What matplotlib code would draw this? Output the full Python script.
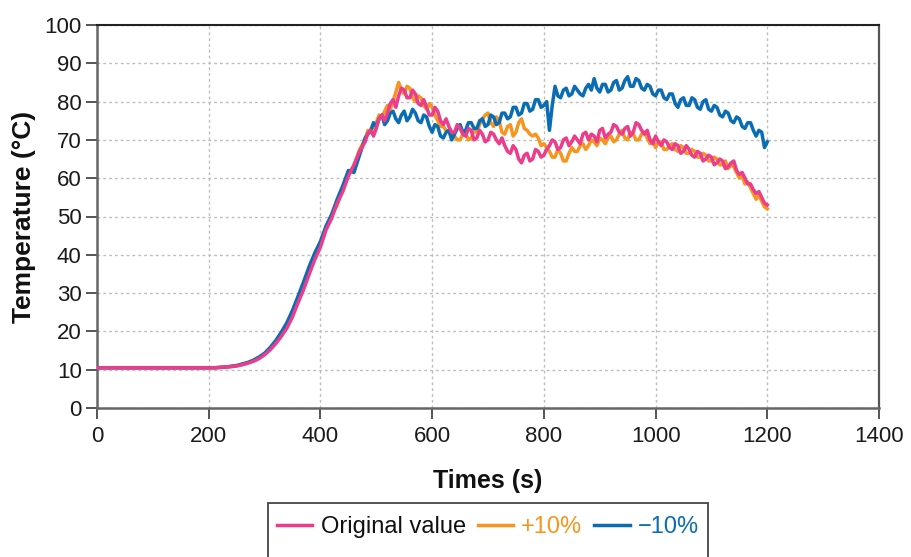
import matplotlib
matplotlib.use("Agg")
import matplotlib.pyplot as plt
from matplotlib import font_manager as fm
from matplotlib.lines import Line2D
from matplotlib.patches import Rectangle

# ---------------- data ----------------
time_rise = list(range(0, 480, 10))      # 0 .. 470 s
time_late = list(range(480, 1201, 5))    # 480 .. 1200 s

original_rise = [10.5, 10.5, 10.5, 10.5, 10.5, 10.5, 10.5, 10.5, 10.5, 10.5,
                 10.5, 10.5, 10.5, 10.5, 10.5, 10.5, 10.5, 10.5, 10.5, 10.5,
                 10.5,
                 10.5, 10.6, 10.7, 10.8, 11.0, 11.3, 11.7, 12.2, 12.9, 13.9,
                 15.2, 16.8, 18.7, 20.9, 23.8, 27.5, 31.0, 35.0, 38.8, 42.0,
                 46.5, 49.5, 53.5, 56.5, 60.5, 63.5, 67.0]
original_late = [69.5, 71.8, 72.5, 71.0, 73.0, 75.5, 76.5, 75.0, 77.0, 79.5,
                 80.5, 78.5, 81.5, 83.5, 83.0, 81.0, 81.0, 83.0, 82.0, 79.5,
                 79.0, 80.5, 78.5, 76.5, 76.5, 78.5, 77.5, 75.0, 74.0, 75.5,
                 73.5, 72.0, 72.0, 74.0, 73.0, 71.5, 71.0, 73.0, 72.5, 70.0,
                 70.5, 72.5, 71.5, 69.5, 70.0, 72.0, 71.5, 70.0, 69.0, 70.5,
                 68.5, 67.0, 66.5, 68.5, 67.5, 65.0, 64.0, 66.0, 66.5, 64.5,
                 65.0, 67.5, 67.0, 65.5, 66.0, 67.5, 68.5, 70.0, 69.5, 67.5,
                 68.0, 70.0, 70.5, 68.5, 69.5, 71.0, 70.0, 69.0, 71.5, 72.0,
                 70.0, 71.5, 71.0, 69.5, 72.5, 73.0, 70.5, 71.5, 72.0, 74.0,
                 73.5, 72.0, 71.5, 73.0, 73.5, 71.0, 72.0, 74.5, 74.0, 72.5,
                 71.5, 72.5, 70.0, 69.0, 71.0, 69.5, 68.5, 70.0, 69.5, 68.0,
                 67.5, 69.0, 68.5, 66.5, 67.0, 68.5, 67.5, 66.0, 65.5, 67.0,
                 66.5, 64.5, 65.0, 66.0, 65.5, 63.5, 64.0, 65.0, 64.5, 62.5,
                 63.0, 64.0, 64.5, 62.0, 61.0, 61.5, 60.0, 58.5, 58.5, 57.0,
                 56.0, 56.5, 55.0, 53.5, 53.0]

plus10_rise = [10.5, 10.5, 10.5, 10.5, 10.5, 10.5, 10.5, 10.5, 10.5, 10.5,
               10.5, 10.5, 10.5, 10.5, 10.5, 10.5, 10.5, 10.5, 10.5, 10.5,
               10.5,
               10.5, 10.6, 10.7, 10.8, 11.0, 11.3, 11.8, 12.3, 13.0, 14.0,
               15.4, 17.0, 19.0, 21.2, 24.2, 27.8, 31.5, 35.5, 39.5, 42.5,
               47.0, 50.5, 53.0, 57.5, 61.5, 63.0, 67.5]
plus10_late = [70.0, 72.5, 72.0, 73.0, 74.5, 76.5, 76.0, 77.5, 79.0, 78.0,
               80.0, 82.5, 85.0, 83.0, 82.0, 84.0, 83.5, 81.0, 80.0, 81.5,
               81.0, 79.0, 78.0, 79.5, 78.5, 76.5, 75.0, 73.5, 73.5, 72.5,
               72.0, 71.0, 71.0, 70.0, 70.0, 71.5, 71.5, 70.0, 70.5, 72.5,
               72.0, 74.0, 75.5, 76.5, 77.0, 74.5, 73.5, 76.0, 75.0, 72.0,
               71.5, 73.5, 74.0, 71.0, 72.0, 74.5, 75.5, 73.0, 72.5, 71.5,
               71.0, 71.5, 70.5, 68.5, 69.0, 68.0, 67.0, 65.5, 65.5, 67.5,
               66.5, 64.5, 64.5, 66.5, 68.0, 67.0, 67.0, 68.5, 69.0, 67.5,
               68.5, 70.0, 69.5, 68.5, 70.5, 70.0, 69.0, 70.5, 71.0, 69.5,
               70.0, 71.5, 72.5, 70.5, 70.0, 72.0, 71.5, 70.0, 70.0, 71.5,
               72.0, 70.5, 69.0, 70.0, 68.0, 69.5, 69.5, 67.5, 67.5, 68.5,
               69.0, 67.5, 67.0, 68.5, 68.0, 66.5, 66.5, 67.5, 67.0, 65.5,
               65.5, 66.5, 66.0, 64.5, 64.5, 65.5, 65.0, 63.5, 63.5, 64.5,
               62.5, 63.5, 63.0, 61.5, 60.0, 60.5, 58.5, 59.0, 57.5, 56.0,
               54.5, 55.5, 54.0, 52.5, 52.0]

minus10_rise = [10.5, 10.5, 10.5, 10.5, 10.5, 10.5, 10.5, 10.5, 10.5, 10.5,
                10.5, 10.5, 10.5, 10.5, 10.5, 10.5, 10.5, 10.5, 10.5, 10.5,
                10.5,
                10.5, 10.6, 10.7, 10.9, 11.1, 11.5, 11.9, 12.5, 13.3, 14.3,
                15.8, 17.6, 19.8, 22.3, 25.5, 29.2, 33.0, 37.0, 40.5, 43.5,
                47.5, 50.5, 54.5, 58.0, 62.0, 61.5, 66.0]
minus10_late = [70.5, 71.5, 72.5, 74.5, 73.5, 75.5, 76.5, 74.0, 75.0, 77.0,
                77.5, 75.5, 74.5, 76.5, 77.5, 75.0, 76.0, 78.0, 77.0, 75.0,
                74.5, 76.5, 76.0, 73.5, 72.0, 74.0, 73.5, 71.0, 70.5, 72.0,
                72.5, 70.0, 71.5, 73.0, 74.0, 72.0, 72.5, 74.5, 74.5, 73.0,
                73.0, 75.0, 75.5, 73.5, 74.0, 76.5, 76.0, 74.0, 74.5, 77.0,
                77.0, 75.5, 76.0, 78.5, 78.5, 76.5, 77.0, 79.5, 79.5, 77.5,
                78.0, 80.5, 80.5, 78.5, 79.0, 80.0, 72.5, 79.0, 84.0, 81.5,
                81.0, 83.0, 83.5, 81.5, 82.0, 84.0, 83.0, 82.0, 81.5, 83.5,
                84.5, 83.0, 86.0, 83.5, 82.5, 84.5, 84.5, 82.5, 83.0, 85.0,
                85.5, 83.0, 83.5, 85.5, 86.5, 84.0, 84.0, 86.0, 85.5, 83.5,
                83.0, 84.5, 84.0, 82.0, 81.5, 83.0, 83.0, 81.0, 80.5, 82.0,
                82.0, 79.5, 78.5, 80.5, 81.0, 79.0, 79.0, 81.0, 80.5, 78.5,
                78.0, 80.0, 80.5, 78.0, 77.5, 79.0, 78.5, 76.5, 76.0, 77.5,
                77.0, 75.0, 74.5, 76.0, 75.5, 73.5, 73.0, 74.5, 74.5, 72.5,
                71.0, 72.5, 72.0, 68.0, 69.5]

time_s = time_rise + time_late
original = original_rise + original_late
plus10 = plus10_rise + plus10_late
minus10 = minus10_rise + minus10_late

series_labels = ["Original value", "+10%", "\u221210%"]
x_ticks = [0, 200, 400, 600, 800, 1000, 1200, 1400]
y_ticks = [0, 10, 20, 30, 40, 50, 60, 70, 80, 90, 100]

# ---------------- style ----------------
C_PINK = "#EC3C8C"
C_ORANGE = "#F7961E"
C_BLUE = "#0A6DB3"

names = {f.name for f in fm.fontManager.ttflist}
narrow = "Liberation Sans Narrow" if "Liberation Sans Narrow" in names else "Liberation Sans"
plt.rcParams["font.family"] = [narrow, "DejaVu Sans"]

fig = plt.figure(figsize=(9.12, 5.57), dpi=100)
ax = fig.add_axes([97 / 912, 1 - 408 / 557, 782 / 912, 383 / 557])

LW = 2.5
ax.plot(time_s, plus10, color=C_ORANGE, lw=LW, zorder=3)
ax.plot(time_s, minus10, color=C_BLUE, lw=LW, zorder=4)
ax.plot(time_s, original, color=C_PINK, lw=LW, zorder=5)

ax.set_xlim(0, 1400)
ax.set_ylim(0, 100)
ax.set_xticks(x_ticks)
ax.set_yticks(y_ticks)
ax.grid(True, linestyle=(0, (2, 2.2)), color="#bdbdbd", linewidth=1.0, zorder=0)

for side in ["left", "bottom"]:
    ax.spines[side].set_color("#666666")
    ax.spines[side].set_linewidth(1.8)
ax.spines["top"].set_color("#222222")
ax.spines["top"].set_linewidth(1.5)
ax.spines["right"].set_color("#555555")
ax.spines["right"].set_linewidth(1.6)

ax.tick_params(axis="both", direction="out", length=8, width=1.4,
               color="#555555", labelsize=16, labelcolor="#1a1a1a")
ax.tick_params(axis="x", pad=5)
ax.tick_params(axis="y", pad=3)

ax.set_xlabel("Times (s)", fontsize=18, fontweight="bold", labelpad=16,
              color="#111111")
ax.set_ylabel("Temperature (\u00b0C)", fontsize=19, fontweight="bold",
              labelpad=6, color="#111111",
              family=["Liberation Sans", "DejaVu Sans"])

# legend: the frame is cut by the lower edge of the picture
frame = Rectangle((268 / 912, -0.06), 440 / 912, (557 - 503) / 557 + 0.06,
                  transform=fig.transFigure, facecolor="white",
                  edgecolor="#444444", linewidth=1.3, clip_on=False, zorder=1)
fig.add_artist(frame)

handles = [Line2D([], [], color=C_PINK, lw=LW),
           Line2D([], [], color=C_ORANGE, lw=LW),
           Line2D([], [], color=C_BLUE, lw=LW)]
leg = fig.legend(handles, series_labels, loc="center",
                 bbox_to_anchor=(488 / 912, 1 - 527 / 557), ncol=3,
                 fontsize=17, frameon=False, borderpad=0.0,
                 handlelength=1.5, handletextpad=0.35, columnspacing=0.5,
                 borderaxespad=0)
leg.set_zorder(2)
for txt, col in zip(leg.get_texts(), ["#111111", C_ORANGE, C_BLUE]):
    txt.set_color(col)

fig.savefig("out.png", dpi=100)
